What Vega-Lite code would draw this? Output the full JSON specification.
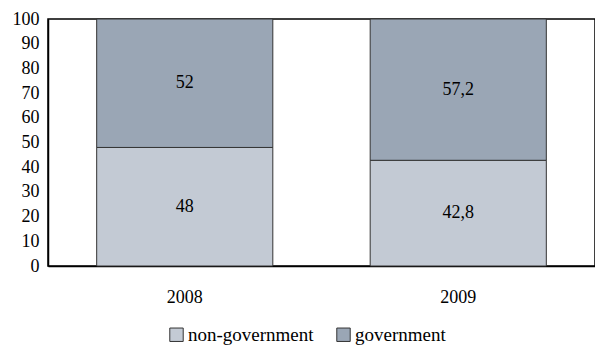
{
  "$schema": "https://vega.github.io/schema/vega-lite/v6.json",
  "width": 547,
  "height": 247,
  "autosize": "none",
  "padding": {"left": 48, "top": 19, "right": 0, "bottom": 81},
  "background": "white",
  "config": {
    "view": {"stroke": "#000", "strokeWidth": 1.5},
    "font": "Liberation Serif",
    "style": {
      "guide-label": {"font": "Liberation Serif", "fontSize": 18, "fill": "#000"},
      "text": {"font": "Liberation Serif", "fontSize": 18}
    },
    "axis": {"labelFont": "Liberation Serif", "labelFontSize": 18, "labelColor": "#000", "domainColor": "#000", "domainWidth": 1.5, "ticks": false, "grid": false, "title": null},
    "legend": {"labelFont": "Liberation Serif", "labelFontSize": 19, "labelColor": "#000"},
    "text": {"font": "Liberation Serif", "fontSize": 18}
  },
  "data": {
    "values": [
      {"year": "2008", "type": "non-government", "value": 48, "label": "48", "order": 1},
      {"year": "2008", "type": "government", "value": 52, "label": "52", "order": 2},
      {"year": "2009", "type": "non-government", "value": 42.8, "label": "42,8", "order": 1},
      {"year": "2009", "type": "government", "value": 57.2, "label": "57,2", "order": 2}
    ]
  },
  "encoding": {
    "x": {
      "field": "year", "type": "nominal",
      "scale": {"paddingInner": 0.356, "paddingOuter": 0.178},
      "axis": {"title": null, "labelAngle": 0, "labelPadding": 22, "labelFontSize": 18, "labelFont": "Liberation Serif"}
    },
    "y": {
      "field": "value", "type": "quantitative", "stack": "zero",
      "scale": {"domain": [0, 100]},
      "axis": {"title": null, "values": [0,10,20,30,40,50,60,70,80,90,100], "labelOverlap": false, "labelPadding": 9, "labelFontSize": 18, "labelFont": "Liberation Serif"}
    },
    "order": {"field": "order"}
  },
  "layer": [
    {
      "mark": {"type": "bar", "stroke": "#333333", "strokeWidth": 1},
      "encoding": {
        "color": {
          "field": "type", "type": "nominal",
          "scale": {"domain": ["non-government", "government"], "range": ["#c3cad4", "#9aa6b5"]},
          "legend": {"title": null, "orient": "none", "direction": "horizontal", "legendX": 119, "legendY": 306, "symbolType": "square", "symbolSize": 180, "symbolStrokeColor": "#333333", "symbolStrokeWidth": 1, "labelFontSize": 19, "labelFont": "Liberation Serif", "labelColor": "#000", "columnPadding": 20, "labelOffset": 2}
        }
      }
    },
    {
      "mark": {"type": "text", "fontSize": 18, "color": "#000", "font": "Liberation Serif"},
      "encoding": {
        "y": {"field": "value", "type": "quantitative", "stack": "zero", "bandPosition": 0.5},
        "text": {"field": "label"}
      }
    }
  ]
}
